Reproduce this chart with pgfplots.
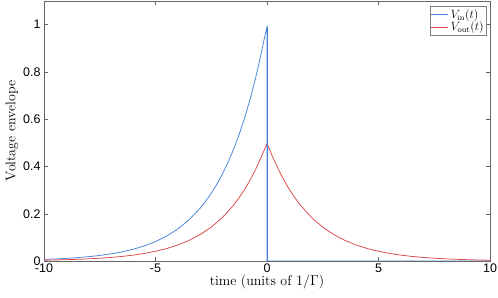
\documentclass[border=0pt]{standalone}
\usepackage{pgfplots}
\pgfplotsset{compat=1.18}
\usepackage{fontspec}
\newfontfamily\hv{Liberation Sans}
\definecolor{vin}{RGB}{70,130,220}
\definecolor{vout}{RGB}{220,70,70}
\begin{document}
\begin{tikzpicture}
\begin{axis}[
  scale only axis,
  width=446bp, height=260bp,
  xmin=-10, xmax=10, ymin=0, ymax=1.1,
  xtick={-10,-5,0,5,10}, xticklabels={-10,-5,0,5,10},
  ytick={0,0.2,0.4,0.6,0.8,1}, yticklabels={0,0.2,0.4,0.6,0.8,1},
  tick label style={font=\hv\fontsize{12.5}{14}\selectfont},
  xticklabel style={yshift=1bp},
  tick align=inside, major tick length=4bp,
  axis line style={draw=black!60}, every tick/.style={draw=black!60},
  xlabel={time (units of $1/\Gamma$)},
  ylabel={Voltage envelope},
  label style={font=\fontsize{14}{16}\selectfont},
  xlabel style={yshift=4bp},
  ylabel style={yshift=-2bp},
  legend style={font=\fontsize{12}{14}\selectfont, draw=black!50, inner sep=1pt, row sep=-2pt, at={(0.993,0.98)}, anchor=north east},
  legend cell align=left,
]
\addplot[vin, line width=0.75pt] coordinates {
(-10,0.006738) (-9.5,0.008652) (-9,0.011109) (-8.5,0.014264) (-8,0.018316)
(-7.5,0.023518) (-7,0.030197) (-6.5,0.038774) (-6,0.049787) (-5.5,0.063928)
(-5,0.082085) (-4.5,0.105399) (-4,0.135335) (-3.5,0.173774) (-3,0.223130)
(-2.75,0.252840) (-2.5,0.286505) (-2.25,0.324652) (-2,0.367879) (-1.75,0.416862)
(-1.5,0.472367) (-1.25,0.535261) (-1,0.606531) (-0.75,0.687289) (-0.5,0.778801)
(-0.25,0.882497) (-0.125,0.939413) (0,0.99) (0,0) (10,0)
};
\addlegendentry{$V_{\mathrm{in}}(t)$}
\addplot[vout, line width=0.75pt] coordinates {
(-10,0.003369) (-9.5,0.004326) (-9,0.005554) (-8.5,0.007132) (-8,0.009158)
(-7.5,0.011759) (-7,0.015098) (-6.5,0.019387) (-6,0.024894) (-5.5,0.031964)
(-5,0.041042) (-4.5,0.052700) (-4,0.067668) (-3.5,0.086887) (-3,0.111565)
(-2.5,0.143252) (-2,0.183940) (-1.5,0.236183) (-1.25,0.267631) (-1,0.303265)
(-0.75,0.343645) (-0.5,0.389400) (-0.25,0.441248) (0,0.497)
(0.25,0.441248) (0.5,0.389400) (0.75,0.343645) (1,0.303265) (1.25,0.267631)
(1.5,0.236183) (2,0.183940) (2.5,0.143252) (3,0.111565) (3.5,0.086887)
(4,0.067668) (4.5,0.052700) (5,0.041042) (5.5,0.031964) (6,0.024894)
(6.5,0.019387) (7,0.015098) (7.5,0.011759) (8,0.009158) (8.5,0.007132)
(9,0.005554) (9.5,0.004326) (10,0.003369)
};
\addlegendentry{$V_{\mathrm{out}}(t)$}
\addplot[vin, line width=0.75pt, forget plot] coordinates {(0,0.99) (0,0) (10,0)};
\end{axis}
\pgfresetboundingbox
\path[use as bounding box] (-44bp,-37bp) rectangle (454bp,261bp);
\end{tikzpicture}
\end{document}
